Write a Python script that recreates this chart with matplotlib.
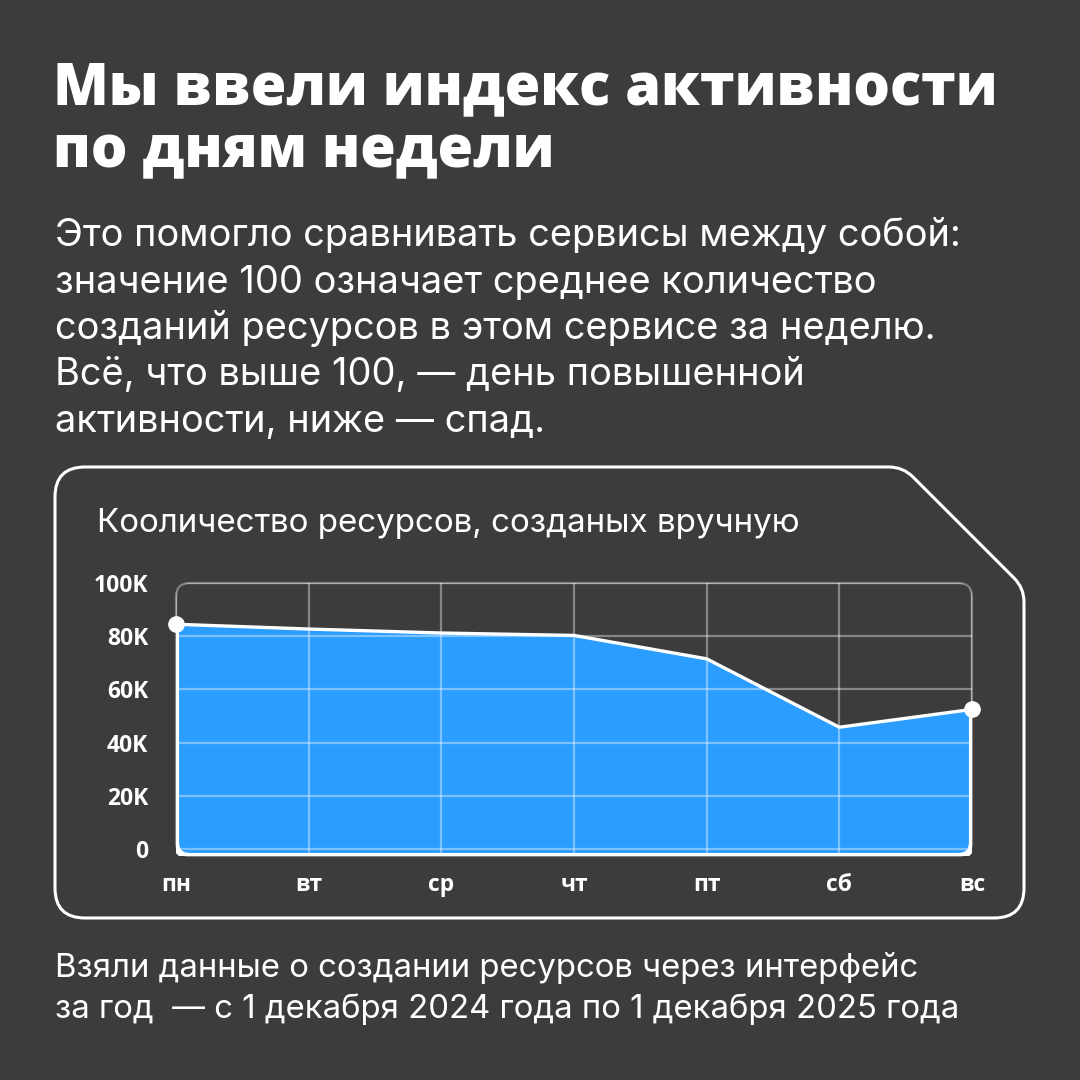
import numpy as np
import matplotlib
matplotlib.use('Agg')
import matplotlib.pyplot as plt
from matplotlib.path import Path
from matplotlib.patches import PathPatch, FancyBboxPatch
from matplotlib.ticker import FuncFormatter

# --- data ---
days = ['пн', 'вт', 'ср', 'чт', 'пт', 'сб', 'вс']
resources = [84500, 82700, 81200, 80300, 71500, 45800, 52500]
y_ticks = [0, 20000, 40000, 60000, 80000, 100000]

title_lines = ['Мы ввели индекс активности', 'по дням недели']
subtitle_lines = [
    'Это помогло сравнивать сервисы между собой:',
    'значение 100 означает среднее количество',
    'созданий ресурсов в этом сервисе за неделю.',
    'Всё, что выше 100, — день повышенной',
    'активности, ниже — спад.',
]
chart_title = 'Кооличество ресурсов, созданых вручную'
footer_lines = [
    'Взяли данные о создании ресурсов через интерфейс',
    'за год  — с 1 декабря 2024 года по 1 декабря 2025 года',
]

BG = '#3c3c3c'
BLUE = '#2b9dff'
FONT = ['Open Sans', 'DejaVu Sans']
BODY = ['Inter', 'DejaVu Sans']

plt.rcParams['font.family'] = FONT

fig = plt.figure(figsize=(10.8, 10.8), dpi=100, facecolor=BG)

# background axes in pixel units (y downwards)
bg = fig.add_axes([0, 0, 1, 1])
bg.set_xlim(0, 1080)
bg.set_ylim(1080, 0)
bg.axis('off')
bg.set_facecolor(BG)


def rounded_path(pts, radii):
    verts, codes = [], []
    n = len(pts)
    for i in range(n):
        p0 = np.array(pts[i - 1], float)
        p1 = np.array(pts[i], float)
        p2 = np.array(pts[(i + 1) % n], float)
        d1 = (p0 - p1) / np.linalg.norm(p0 - p1)
        d2 = (p2 - p1) / np.linalg.norm(p2 - p1)
        a = p1 + d1 * radii[i]
        b = p1 + d2 * radii[i]
        verts.append(a)
        codes.append(Path.MOVETO if i == 0 else Path.LINETO)
        verts += [p1, b]
        codes += [Path.CURVE3, Path.CURVE3]
    verts.append(verts[0])
    codes.append(Path.CLOSEPOLY)
    return Path(verts, codes)


# chart panel with cut corner
panel = rounded_path([(55, 467), (903, 467), (1024, 588), (1024, 918), (55, 918)],
                     [30, 14, 14, 30, 30])
bg.add_patch(PathPatch(panel, facecolor='none', edgecolor='white', lw=2.2))

# texts
for i, line in enumerate(title_lines):
    bg.text(53, 104 + i * 63, line, color='white', fontsize=41.5, fontweight='heavy',
            va='baseline', ha='left')
for i, line in enumerate(subtitle_lines):
    bg.text(55, 246 + i * 46.5, line, color='white', fontsize=27.4,
            family=BODY, va='baseline', ha='left')
bg.text(97, 532, chart_title, color='white', fontsize=23.9, family=BODY,
        va='baseline', ha='left')
for i, line in enumerate(footer_lines):
    bg.text(55, 977 + i * 41, line, color='white', fontsize=23.7, family=BODY,
            va='baseline', ha='left')

# plot frame (pixel coords)
L, R, T, B = 176, 972, 583, 856
frame_kw = dict(boxstyle='round,pad=0,rounding_size=14')
clip_patch = FancyBboxPatch((L, T), R - L, B - T, transform=bg.transData,
                            facecolor='none', edgecolor='none', **frame_kw)
bg.add_patch(FancyBboxPatch((L, T), R - L, B - T, facecolor='none',
                            edgecolor='#808080', lw=1.6, **frame_kw))

ax = fig.add_axes([L / 1080, 1 - B / 1080, (R - L) / 1080, (B - T) / 1080])
ax.set_facecolor('none')
x = np.arange(len(days))
ymin = -2600
ax.set_xlim(0, len(days) - 1)
ax.set_ylim(ymin, 100000)

fill = ax.fill_between(x, resources, ymin, color=BLUE, lw=0, zorder=1)
fill.set_clip_path(clip_patch)

for xv in x:
    gl = ax.axvline(xv, color='white', alpha=0.38, lw=1.6, zorder=2)
    gl.set_clip_path(clip_patch)
for yv in y_ticks:
    gl = ax.axhline(yv, color='white', alpha=0.38, lw=1.6, zorder=2)
    gl.set_clip_path(clip_patch)

# white outline of the filled area along the frame
edge = FancyBboxPatch((L, T), R - L, B - T, transform=bg.transData,
                      facecolor='none', edgecolor='white', lw=4.4, zorder=3, **frame_kw)
ax.add_artist(edge)
edge.set_clip_path(fill.get_paths()[0], ax.transData)

ax.plot(x, resources, color='white', lw=2.4, zorder=4, solid_joinstyle='round')
ax.plot([x[0], x[-1]], [resources[0], resources[-1]], 'o', color='white',
        ms=11, zorder=5, clip_on=False)

for s in ax.spines.values():
    s.set_visible(False)
ax.set_xticks(x)
ax.set_xticklabels(days)
ax.set_yticks(y_ticks)
ax.yaxis.set_major_formatter(FuncFormatter(lambda v, p: '0' if v == 0 else f'{int(v / 1000)}K'))
ax.tick_params(length=0, colors='white', labelsize=16.5)
ax.tick_params(axis='y', pad=20)
ax.tick_params(axis='x', pad=12)
for lbl in ax.get_xticklabels() + ax.get_yticklabels():
    lbl.set_fontweight('bold')

fig.savefig('out.png', dpi=100, facecolor=BG)
